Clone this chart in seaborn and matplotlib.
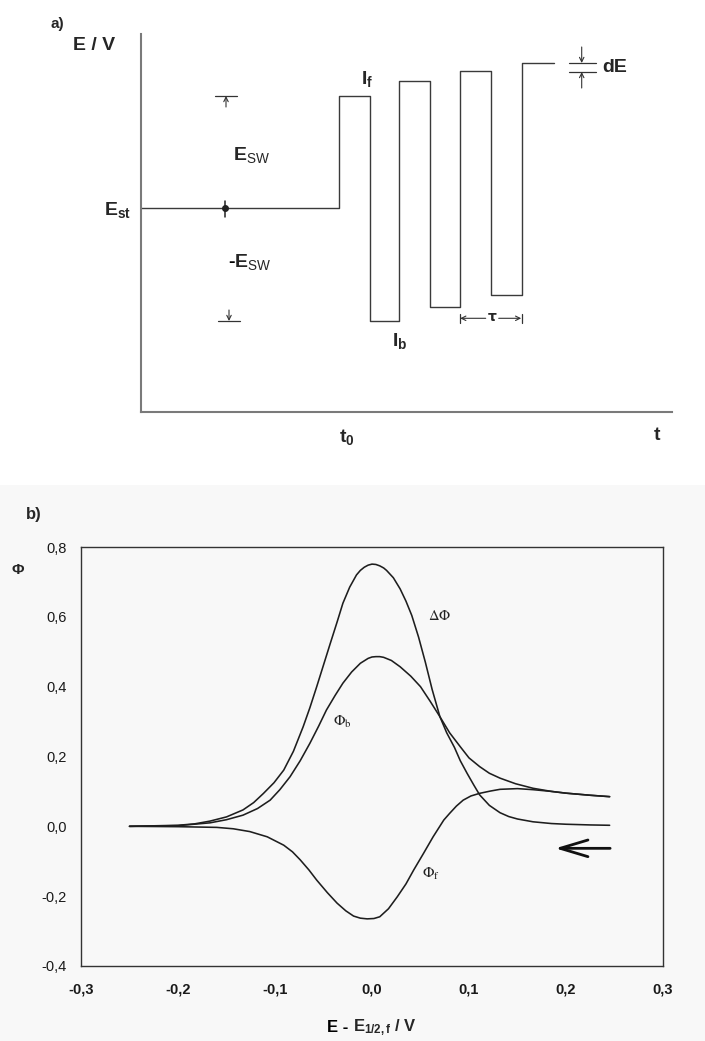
import numpy as np
import pandas as pd
import matplotlib
matplotlib.use("Agg")
import matplotlib.pyplot as plt
import seaborn as sns
from matplotlib.patches import Rectangle
from matplotlib.offsetbox import TextArea, HPacker, AnnotationBbox

# ---------------- panel a : square-wave staircase (schematic units) ----------
step_t = [0.0, 19.8, 22.9, 25.8, 28.9, 31.9, 35.0, 38.1, 41.3]
step_E = [20.4, 31.6, 9.1, 33.1, 10.5, 34.1, 11.7, 34.9, 34.9]
t0_value = 20.1
est_t, est_E = 8.43, 20.4
esw_up, esw_down = 31.6, 9.1
dE_upper, dE_lower = 34.9, 34.0
tau_start, tau_end = 31.9, 38.1
tau_level = 9.37

# ---------------- panel b : SWV dimensionless currents ----------------------
dphi_x = [-0.25, -0.20, -0.183, -0.167, -0.150, -0.133, -0.122, -0.112, -0.101,
          -0.091, -0.081, -0.071, -0.064, -0.057, -0.050, -0.043, -0.036, -0.030,
          -0.023, -0.016, -0.012, -0.008, -0.004, 0.000, 0.004, 0.008, 0.012, 0.015,
          0.022, 0.029, 0.035, 0.041, 0.048, 0.055, 0.062, 0.070, 0.077, 0.085,
          0.091, 0.098, 0.105, 0.111, 0.121, 0.132, 0.141, 0.150, 0.166, 0.185,
          0.200, 0.225, 0.245]
dphi_y = [0.000, 0.003, 0.007, 0.015, 0.027, 0.047, 0.068, 0.094, 0.125,
          0.161, 0.215, 0.285, 0.340, 0.400, 0.462, 0.524, 0.585, 0.639,
          0.685, 0.720, 0.733, 0.742, 0.748, 0.751, 0.750, 0.746, 0.740, 0.733,
          0.712, 0.680, 0.645, 0.604, 0.542, 0.470, 0.392, 0.314, 0.268, 0.226,
          0.188, 0.152, 0.118, 0.090, 0.060, 0.039, 0.028, 0.021, 0.013, 0.008,
          0.006, 0.004, 0.003]

phib_x = [-0.25, -0.20, -0.167, -0.150, -0.133, -0.118, -0.105, -0.095, -0.0845,
          -0.074, -0.064, -0.055, -0.047, -0.038, -0.030, -0.021, -0.012, -0.004,
          0.000, 0.004, 0.008, 0.012, 0.020, 0.029, 0.040, 0.050, 0.060, 0.070,
          0.080, 0.091, 0.100, 0.111, 0.121, 0.132, 0.148, 0.166, 0.185, 0.200,
          0.225, 0.245]
phib_y = [0.000, 0.002, 0.010, 0.019, 0.032, 0.051, 0.075, 0.105, 0.142,
          0.188, 0.238, 0.287, 0.333, 0.375, 0.410, 0.442, 0.467, 0.481,
          0.485, 0.486, 0.486, 0.484, 0.475, 0.457, 0.430, 0.400, 0.358, 0.314,
          0.268, 0.228, 0.196, 0.171, 0.152, 0.138, 0.122, 0.109, 0.100, 0.095,
          0.089, 0.085]

phif_x = [-0.25, -0.20, -0.16, -0.143, -0.126, -0.108, -0.091, -0.082, -0.074,
          -0.065, -0.057, -0.046, -0.036, -0.027, -0.019, -0.012, -0.005, 0.002,
          0.008, 0.017, 0.026, 0.035, 0.043, 0.053, 0.063, 0.074, 0.080, 0.087,
          0.094, 0.102, 0.111, 0.122, 0.132, 0.150, 0.166, 0.185, 0.200, 0.225, 0.245]
phif_y = [0.000, -0.001, -0.003, -0.007, -0.015, -0.030, -0.054, -0.073, -0.096,
          -0.125, -0.154, -0.190, -0.220, -0.242, -0.257, -0.263, -0.265, -0.264,
          -0.259, -0.236, -0.202, -0.165, -0.125, -0.078, -0.030, 0.018, 0.037, 0.058,
          0.075, 0.087, 0.0945, 0.101, 0.106, 0.108, 0.105, 0.100, 0.095, 0.089, 0.085]

xtick_vals = [-0.3, -0.2, -0.1, 0.0, 0.1, 0.2, 0.3]
xtick_labels = ["-0,3", "-0,2", "-0,1", "0,0", "0,1", "0,2", "0,3"]
ytick_vals = [-0.4, -0.2, 0.0, 0.2, 0.4, 0.6, 0.8]
ytick_labels = ["-0,4", "-0,2", "0,0", "0,2", "0,4", "0,6", "0,8"]

# ---------------------------------------------------------------------------
sns.set_style("white")
plt.rcParams["font.family"] = ["Liberation Sans", "DejaVu Sans"]
plt.rcParams["mathtext.fontset"] = "custom"
plt.rcParams["mathtext.rm"] = "Liberation Sans"
plt.rcParams["mathtext.bf"] = "Liberation Sans:bold"
plt.rcParams["mathtext.it"] = "Liberation Sans:italic"
plt.rcParams["mathtext.sf"] = "Liberation Sans"

W, H = 705, 1041
fig = plt.figure(figsize=(W / 100, H / 100), dpi=100)
fig.patch.set_facecolor("white")


def fx(px):
    return px / W


def fy(py):
    return 1 - py / H


def packed_label(parts, xy, xycoords, artist_parent):
    """Baseline-aligned row of text pieces (plain + mathtext)."""
    boxes = [TextArea(txt, textprops=props) for txt, props in parts]
    row = HPacker(children=boxes, align="baseline", pad=0, sep=0)
    ab = AnnotationBbox(row, xy, xycoords=xycoords, frameon=False,
                        box_alignment=(0.5, 0.5), pad=0, annotation_clip=False)
    artist_parent.add_artist(ab)
    return ab


# light grey scan background for panel b
fig.add_artist(Rectangle((0, 0), 1, fy(485), transform=fig.transFigure,
                         facecolor="#f8f8f8", edgecolor="none", zorder=-10))

# ============================ panel a =======================================
axA = fig.add_axes([fx(140.7), fy(412), fx(672) - fx(140.7), fy(34) - fy(412)])
axA.set_facecolor("none")
wave_col = "#3a3a3a"
ax_col = "#7a7a7a"
sns.lineplot(x=step_t, y=step_E, ax=axA, drawstyle="steps-post",
             color=wave_col, linewidth=1.0, estimator=None)
axA.set_xlim(0, 53.13)
axA.set_ylim(0, 37.8)
for s in ["top", "right"]:
    axA.spines[s].set_visible(False)
for s in ["left", "bottom"]:
    axA.spines[s].set_color(ax_col)
    axA.spines[s].set_linewidth(1.5)
axA.set_xticks([t0_value])
axA.set_xticklabels([""])
axA.set_yticks([])
axA.tick_params(axis="x", direction="inout", length=8, width=1.2, colors=ax_col)
axA.set_xlabel("")
axA.set_ylabel("")

# Est dot with small vertical tick
axA.plot([est_t], [est_E], marker="o", ms=4, color="#222222")
axA.plot([est_t, est_t], [est_E - 0.9, est_E + 0.7], color="#222222", lw=1.1)

arr_kw = dict(arrowstyle="->", lw=0.8, color="#333333", mutation_scale=8,
              shrinkA=0, shrinkB=0)
# +Esw marker
axA.plot([7.43, 9.63], [esw_up, esw_up], color="#333333", lw=0.9)
axA.annotate("", xy=(8.53, esw_up), xytext=(8.53, esw_up - 1.1), arrowprops=arr_kw)
# -Esw marker
axA.plot([7.73, 9.93], [esw_down, esw_down], color="#333333", lw=0.9)
axA.annotate("", xy=(8.83, esw_down), xytext=(8.83, esw_down + 1.1), arrowprops=arr_kw)
# dE marker
axA.plot([42.83, 45.53], [dE_upper, dE_upper], color="#333333", lw=0.9)
axA.plot([42.83, 45.53], [dE_lower, dE_lower], color="#333333", lw=0.9)
axA.annotate("", xy=(44.1, dE_upper), xytext=(44.1, 36.5), arrowprops=arr_kw)
axA.annotate("", xy=(44.1, dE_lower), xytext=(44.1, 32.4), arrowprops=arr_kw)
# tau marker
axA.plot([tau_start, tau_start], [8.9, 9.8], color="#333333", lw=0.9)
axA.plot([tau_end, tau_end], [8.9, 9.8], color="#333333", lw=0.9)
axA.annotate("", xy=(tau_start + 0.05, tau_level), xytext=(34.5, tau_level), arrowprops=arr_kw)
axA.annotate("", xy=(tau_end - 0.05, tau_level), xytext=(35.8, tau_level), arrowprops=arr_kw)
axA.text(35.15, tau_level + 0.15, "τ", fontsize=10, fontweight="bold", ha="center",
         va="center", family=["DejaVu Sans"])

big = 14
bold_big = dict(fontsize=big, fontweight="bold", color="black")
axA.text(11.1, 25.7, r"$\mathbf{E}_{\mathrm{SW}}$", fontsize=big, ha="center", va="center")
packed_label([("-", bold_big), (r"$\mathbf{E}_{\mathrm{SW}}$", dict(fontsize=big))],
             (10.9, 15.0), "data", axA)
axA.text(22.6, 33.3, r"$\mathbf{I}_{\mathbf{f}}$", fontsize=big, ha="center", va="center")
axA.text(25.9, 7.1, r"$\mathbf{I}_{\mathbf{b}}$", fontsize=big, ha="center", va="center")
axA.text(46.2, 34.45, "dE", fontsize=big, fontweight="bold", ha="left", va="center")

fig.text(fx(57), fy(24), "a)", fontsize=11, fontweight="bold", ha="center", va="center")
fig.text(fx(94), fy(46), "E / V", fontsize=big, fontweight="bold", ha="center", va="center")
fig.text(fx(131), fy(210), r"$\mathbf{E}_{\mathbf{st}}$", fontsize=big, ha="right", va="center")
fig.text(fx(347), fy(437), r"$\mathbf{t}_{\mathbf{0}}$", fontsize=big, ha="center", va="center")
fig.text(fx(657), fy(436), "t", fontsize=big, fontweight="bold", ha="center", va="center")

# ============================ panel b =======================================
axB = fig.add_axes([fx(81), fy(966), fx(663) - fx(81), fy(547) - fy(966)])
axB.set_facecolor("none")
curves = pd.concat([
    pd.DataFrame({"E": dphi_x, "phi": dphi_y, "curve": "dphi"}),
    pd.DataFrame({"E": phib_x, "phi": phib_y, "curve": "phib"}),
    pd.DataFrame({"E": phif_x, "phi": phif_y, "curve": "phif"}),
])
sns.lineplot(data=curves, x="E", y="phi", hue="curve", units="curve",
             estimator=None, sort=False, legend=False, ax=axB,
             palette={"dphi": "#1e1e1e", "phib": "#1e1e1e", "phif": "#1e1e1e"},
             linewidth=1.15)
axB.set_xlim(-0.3, 0.3)
axB.set_ylim(-0.4, 0.8)
axB.set_xticks(xtick_vals)
axB.set_xticklabels(xtick_labels, fontweight="bold")
axB.set_yticks(ytick_vals)
axB.set_yticklabels(ytick_labels)
for s in axB.spines.values():
    s.set_visible(True)
    s.set_color("#333333")
    s.set_linewidth(1.0)
axB.tick_params(axis="both", direction="out", length=4, width=1.0, colors="#333333",
                labelsize=10.5, labelcolor="#1a1a1a")
axB.tick_params(axis="y", pad=6)
axB.tick_params(axis="x", pad=8)
axB.set_xlabel("")
axB.set_ylabel("")

axB.text(0.070, 0.602, r"$\Delta\Phi$", fontsize=10.5, ha="center", va="center",
         math_fontfamily="stix", color="#222222")
axB.text(-0.030, 0.300, r"$\Phi_{\mathrm{b}}$", fontsize=11, ha="center", va="center",
         math_fontfamily="stix", color="#222222")
axB.text(0.061, -0.137, r"$\Phi_{\mathrm{f}}$", fontsize=11, ha="center", va="center",
         math_fontfamily="stix", color="#222222")

# scan direction arrow
axB.annotate("", xy=(0.189, -0.063), xytext=(0.2455, -0.063),
             arrowprops=dict(arrowstyle="->,head_length=2.0,head_width=0.6",
                             lw=2.0, color="#111111", mutation_scale=10,
                             shrinkA=0, shrinkB=0))

fig.text(fx(34), fy(515), "b)", fontsize=12, fontweight="bold", ha="center", va="center")
fig.text(fx(18), fy(570), "Φ", fontsize=11, fontweight="bold", ha="center", va="center")
bold12 = dict(fontsize=12, fontweight="bold", color="black")
packed_label([("E - ", bold12), (r"$\mathbf{E_{1/2,f}\ /\ V}$", dict(fontsize=12))],
             (fx(372), fy(1028)), "figure fraction", fig)

fig.savefig("out.png", dpi=100)
